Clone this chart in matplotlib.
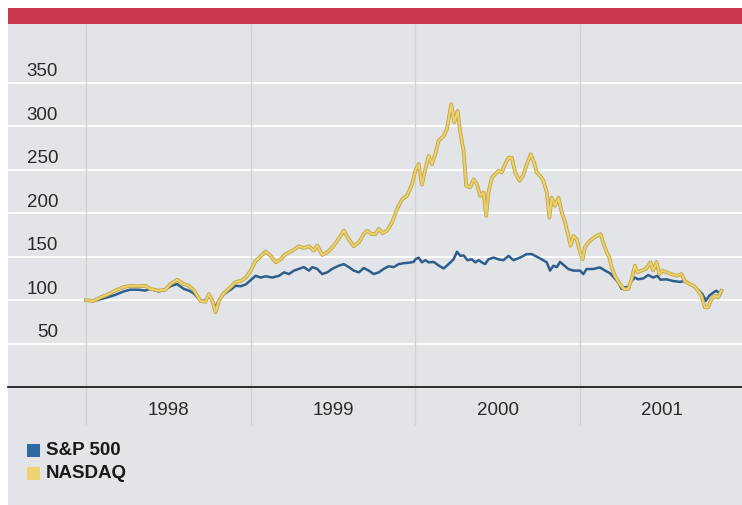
import matplotlib
matplotlib.use('Agg')
import matplotlib.pyplot as plt
import matplotlib.patheffects as pe
from matplotlib.patches import Rectangle
from matplotlib.transforms import blended_transform_factory, offset_copy

plt.rcParams['font.family'] = ['Liberation Sans', 'DejaVu Sans']

# ===========================
# data (index, Jan 1998 = 100), time in decimal years
# ===========================
SP_T = [1998.000, 1998.045, 1998.085, 1998.126, 1998.177, 1998.228, 1998.268, 1998.319,
        1998.360, 1998.390, 1998.441, 1998.482, 1998.512, 1998.553, 1998.593, 1998.624,
        1998.654, 1998.695, 1998.726, 1998.746, 1998.766, 1998.787, 1998.807, 1998.837,
        1998.878, 1998.909, 1998.939, 1998.970,
        1999.000, 1999.030, 1999.061, 1999.091, 1999.131, 1999.172, 1999.202, 1999.232,
        1999.263, 1999.293, 1999.323, 1999.354, 1999.374, 1999.404, 1999.434, 1999.465,
        1999.495, 1999.535, 1999.566, 1999.596, 1999.626, 1999.657, 1999.687, 1999.717,
        1999.747, 1999.778, 1999.808, 1999.838, 1999.869, 1999.899, 1999.929, 1999.960,
        1999.990,
        2000.000, 2000.020, 2000.040, 2000.061, 2000.081, 2000.111, 2000.141, 2000.172,
        2000.202, 2000.232, 2000.253, 2000.273, 2000.293, 2000.317, 2000.343, 2000.364,
        2000.384, 2000.404, 2000.424, 2000.444, 2000.475, 2000.505, 2000.535, 2000.566,
        2000.596, 2000.636, 2000.677, 2000.707, 2000.737, 2000.768, 2000.798, 2000.818,
        2000.838, 2000.859, 2000.879, 2000.903, 2000.929, 2000.960,
        2001.000, 2001.020, 2001.040, 2001.081, 2001.121, 2001.152, 2001.182, 2001.206,
        2001.232, 2001.253, 2001.273, 2001.293, 2001.313, 2001.333, 2001.354, 2001.384,
        2001.414, 2001.444, 2001.469, 2001.489, 2001.525, 2001.566, 2001.606, 2001.636,
        2001.667, 2001.697, 2001.723, 2001.743, 2001.764, 2001.784, 2001.808, 2001.828,
        2001.853]
SP_V = [100, 99, 101, 103, 106, 110, 112, 112, 111, 113, 110, 112, 116, 118.5, 113, 111,
        108, 99, 99.5, 105, 100, 92, 100, 107, 112, 116.5, 116, 118,
        123, 128, 126, 127.5, 126, 128, 132, 130, 134, 136, 138, 134, 138, 136, 130, 132,
        136, 139.6, 141.5, 138, 134, 132, 137, 134, 130, 132, 136, 139, 138, 141.5, 142.5,
        143, 144,
        147, 149, 143.5, 146, 143.5, 144, 140, 136.5, 141.5, 147, 155.7, 151, 151.5, 146,
        147, 143.5, 146, 143.5, 141.5, 147, 149, 147, 146, 151, 146, 149, 153, 153, 150,
        147, 143.5, 134, 139.6, 138, 144, 140, 135.8, 134,
        134, 130, 135.8, 135.8, 137.7, 134, 131, 126, 120.5, 112.8, 115, 115, 122, 126,
        124, 125, 128.9, 126, 128, 123.5, 124, 122, 121, 122, 118.5, 115, 110.8, 107, 99.3,
        105, 108.6, 110.8, 107]

NQ_T = [1998.000, 1998.045, 1998.085, 1998.126, 1998.177, 1998.228, 1998.268, 1998.319,
        1998.360, 1998.390, 1998.441, 1998.482, 1998.512, 1998.553, 1998.593, 1998.624,
        1998.654, 1998.695, 1998.726, 1998.746, 1998.766, 1998.787, 1998.807, 1998.837,
        1998.878, 1998.909, 1998.939, 1998.970,
        1999.000, 1999.030, 1999.091, 1999.121, 1999.152, 1999.182, 1999.212, 1999.253,
        1999.293, 1999.323, 1999.354, 1999.384, 1999.404, 1999.434, 1999.465, 1999.495,
        1999.525, 1999.566, 1999.596, 1999.626, 1999.657, 1999.687, 1999.707, 1999.733,
        1999.758, 1999.778, 1999.802, 1999.828, 1999.859, 1999.889, 1999.919, 1999.949,
        1999.980,
        2000.000, 2000.020, 2000.040, 2000.061, 2000.081, 2000.101, 2000.121, 2000.141,
        2000.172, 2000.192, 2000.218, 2000.236, 2000.257, 2000.273, 2000.293, 2000.309,
        2000.333, 2000.354, 2000.374, 2000.394, 2000.414, 2000.430, 2000.444, 2000.465,
        2000.485, 2000.505, 2000.525, 2000.545, 2000.566, 2000.586, 2000.606, 2000.632,
        2000.653, 2000.677, 2000.701, 2000.721, 2000.737, 2000.758, 2000.778, 2000.798,
        2000.814, 2000.828, 2000.848, 2000.869, 2000.889, 2000.909, 2000.929, 2000.943,
        2000.960, 2000.980,
        2001.000, 2001.016, 2001.030, 2001.051, 2001.071, 2001.101, 2001.125, 2001.141,
        2001.162, 2001.178, 2001.192, 2001.212, 2001.242, 2001.267, 2001.293, 2001.313,
        2001.333, 2001.349, 2001.374, 2001.400, 2001.428, 2001.444, 2001.465, 2001.481,
        2001.501, 2001.525, 2001.556, 2001.586, 2001.616, 2001.636, 2001.667, 2001.691,
        2001.717, 2001.737, 2001.758, 2001.778, 2001.798, 2001.818, 2001.838, 2001.859]
NQ_V = [100, 99, 103, 106, 111, 115, 116.5, 116, 116.5, 113, 111, 112, 118.5, 123.5, 118.5,
        116.5, 112, 99, 98, 107, 100, 86, 99, 108, 115, 121, 122, 126,
        134, 145, 156, 151, 143.5, 147, 153, 157, 162, 160, 162, 157, 163, 152, 155, 160.5,
        168, 180, 170, 162, 166.5, 176, 180, 176, 176, 182, 177, 180, 189.5, 205, 216, 220,
        233.6,
        249, 256.6, 233, 251, 266, 256.6, 268, 283.4, 289, 297, 325.7, 304.6, 318, 293, 272,
        231.6, 229.8, 239, 233.6, 220, 224, 197, 224, 241, 245, 249, 247, 256.6, 264, 264,
        247, 237.4, 243, 256.6, 268, 258.6, 247, 243, 237.4, 224, 195, 218, 208.6, 218, 201,
        189.5, 174, 162.6, 174, 170,
        155, 147, 161, 166.5, 170, 174, 176, 166.5, 155, 149, 137.7, 128, 118.5, 112.8,
        112.8, 124, 139.6, 132, 134, 135.8, 143.5, 134, 144, 130, 134, 132, 130, 128, 130,
        122, 118.5, 116.5, 110.8, 105, 91.7, 91.7, 101, 105, 103, 110.8]

YTICKS = [50, 100, 150, 200, 250, 300, 350]
YEARS = [1998, 1999, 2000, 2001]
YEAR_LABELS = ['1998', '1999', '2000', '2001']
SERIES = ['S&P 500', 'NASDAQ']

BG = '#E3E4E8'
RED = '#CD3850'
BLUE = '#2E5E8B'
BLUE_KEY = '#2F69A2'
YELLOW = '#ECD068'
YELLOW_EDGE = '#BFA64B'
YELLOW_KEY = '#EDD372'
TXT = '#2A2A2A'

# ===========================
# figure + background
# ===========================
W, H = 742, 506
fig = plt.figure(figsize=(W / 100, H / 100), dpi=100, facecolor='white')
fig.add_artist(Rectangle((8 / W, 0), 1, (H - 25) / H, transform=fig.transFigure,
                         facecolor=BG, edgecolor='none', zorder=-2))
fig.add_artist(Rectangle((8 / W, (H - 25) / H), 1, 16 / H, transform=fig.transFigure,
                         facecolor=RED, edgecolor='none', zorder=-2))

PX_YEAR = 164.67   # pixels per year
PX_UNIT = 0.8686   # pixels per index point
ax = fig.add_axes([8 / W, (H - 388) / H, (W - 8) / W, (388 - 25) / H])
ax.patch.set_alpha(0)
ax.set_xlim(1998 - 78 / PX_YEAR, 1998 + (W - 86) / PX_YEAR)
ax.set_ylim(0, (388 - 25) / PX_UNIT)

for s in ['top', 'left', 'right']:
    ax.spines[s].set_visible(False)
ax.spines['bottom'].set_color('#1E1E1E')
ax.spines['bottom'].set_linewidth(1.3)
ax.set_yticks([])
ax.set_xticks([])

# grid
for v in YTICKS:
    ax.axhline(v, color='white', lw=1.3, zorder=1)
bt = blended_transform_factory(ax.transData, ax.transAxes)
ax.vlines(YEARS, -0.105, 1, transform=bt, colors='#D1D2D6', lw=0.9,
          zorder=1, clip_on=False)

# y labels sit above their gridlines
lt = offset_copy(blended_transform_factory(ax.transAxes, ax.transData), fig=fig,
                 x=0, y=12, units='dots')
for v in YTICKS:
    ax.text(50 / (W - 8), v, str(v), transform=lt, ha='right', va='center',
            fontsize=13.5, color=TXT)

# year labels centred in each year
for yr, lab in zip(YEARS, YEAR_LABELS):
    ax.text(yr + 0.5, -23 / 363, lab, transform=bt, ha='center', va='center',
            fontsize=13.5, color=TXT)

# lines
ax.plot(SP_T, SP_V, color=BLUE, lw=1.8, zorder=3, solid_joinstyle='round')
ax.plot(NQ_T, NQ_V, color=YELLOW, lw=1.5, zorder=4, solid_joinstyle='round',
        path_effects=[pe.Stroke(linewidth=2.7, foreground=YELLOW_EDGE), pe.Normal()])

# legend
for i, (name, col) in enumerate(zip(SERIES, [BLUE_KEY, YELLOW_KEY])):
    yc = 451 + i * 23
    fig.add_artist(Rectangle((27 / W, 1 - (yc + 6.5) / H), 13 / W, 13 / H,
                             transform=fig.transFigure, facecolor=col, edgecolor='none'))
    fig.text(46 / W, 1 - yc / H, name, ha='left', va='center', fontsize=13.5,
             fontweight='bold', color='#1A1A1A')

fig.savefig('out.png', dpi=100, facecolor='white')
